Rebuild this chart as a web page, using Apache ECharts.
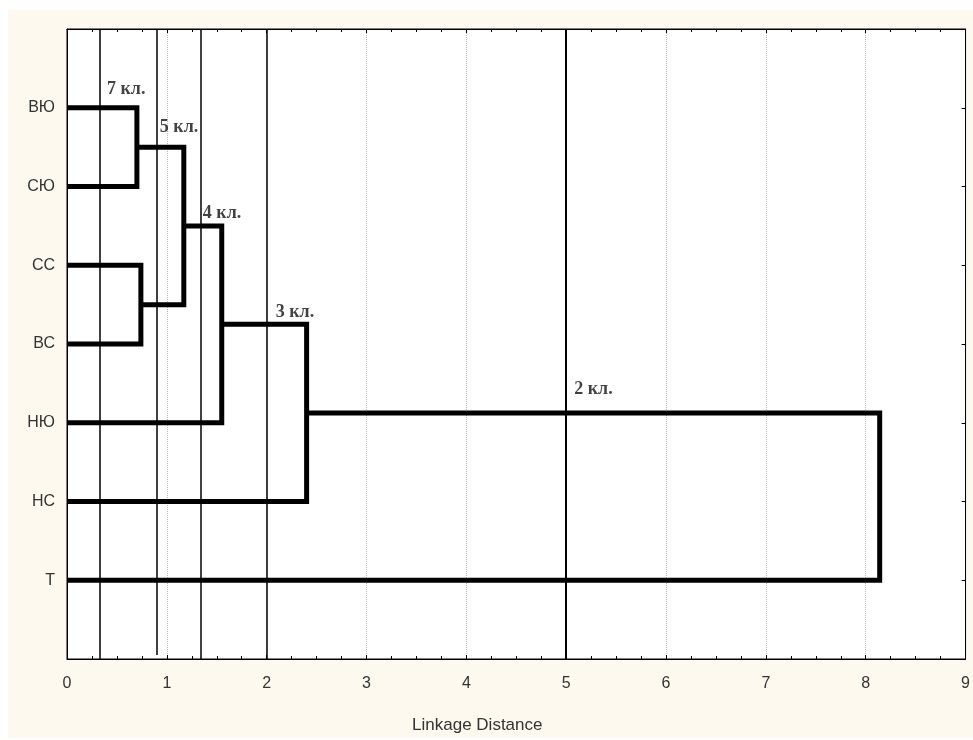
<!DOCTYPE html>
<html><head><meta charset="utf-8">
<script src="https://cdn.jsdelivr.net/npm/echarts@6/dist/echarts.min.js"></script>
<style>
html,body{margin:0;padding:0;background:#ffffff;}
#bg{position:absolute;left:8px;top:10px;width:965px;height:728px;background:#fdf9ef;}
#chart{position:absolute;left:0;top:0;width:973px;height:740px;}
</style></head>
<body><div id="bg"></div><div id="chart"></div>
<script>
// Leaves (top to bottom)
const leaves = ['ВЮ','СЮ','СС','ВС','НЮ','НС','Т'];
// Merges: cluster ids 0..6 are leaves, new clusters get ids 7,8,...
const mergeLeft   = [0, 2, 7, 9, 10, 11];
const mergeRight  = [1, 3, 8, 4, 5, 6];
const mergeHeight = [0.70, 0.74, 1.17, 1.55, 2.40, 8.14];
// Cut levels (vertical reference lines) and where each ends at the bottom
const cutLevels = [0.33, 0.9, 1.34, 2.0, 5.0];
const cutBottom = [8, 7.95, 8, 8, 8];
// Cluster-count annotations
const clusterLabels = ['7 кл.', '5 кл.', '4 кл.', '3 кл.', '2 кл.'];
const clusterLabelX = [0.40, 0.93, 1.36, 2.09, 5.08];
const clusterLabelY = [0.77, 1.25, 2.34, 3.60, 4.57];
const xTicks = [0,1,2,3,4,5,6,7,8,9];

// Build node positions
const nodeX = [], nodeY = [];
leaves.forEach((l, i) => { nodeX.push(0); nodeY.push(i + 1); });
const dendroSeries = [];
for (let k = 0; k < mergeHeight.length; k++) {
  const a = mergeLeft[k], b = mergeRight[k], h = mergeHeight[k];
  dendroSeries.push({
    type: 'line', showSymbol: false, silent: true, z: 5,
    lineStyle: { color: '#000', width: 5, cap: 'butt', join: 'miter' },
    data: [[nodeX[a], nodeY[a]], [h, nodeY[a]], [h, nodeY[b]], [nodeX[b], nodeY[b]]]
  });
  nodeX.push(h); nodeY.push((nodeY[a] + nodeY[b]) / 2);
}

const chart = echarts.init(document.getElementById('chart'));
const textColor = '#333';
const sans = 'Liberation Sans, Arial';
chart.setOption({
  animation: false,
  backgroundColor: 'transparent',
  grid: { left: 67, right: 4, top: 29, bottom: 81, show: true, z: -1, backgroundColor: '#ffffff', borderColor: '#000', borderWidth: 1 },
  xAxis: [{
    type: 'value', min: 0, max: 9, interval: 1, position: 'bottom', z: 3,
    name: 'Linkage Distance', nameLocation: 'middle', nameGap: 58,
    nameTextStyle: { fontFamily: sans, fontSize: 17, color: textColor, padding: [0, 78, 0, 0] },
    axisLine: { show: true, onZero: false, lineStyle: { color: '#000', width: 1 } },
    axisTick: { show: true, inside: true, length: 4, lineStyle: { color: '#000' } },
    minorTick: { show: true, splitNumber: 4, length: 3, lineStyle: { color: '#000' } },
    axisLabel: { fontFamily: sans, fontSize: 16, color: textColor, margin: 17,
                 formatter: v => xTicks.includes(v) ? String(v) : '' },
    splitLine: { show: true, lineStyle: { color: '#b8b8b8', type: 'dotted', width: 1 } }
  }, {
    type: 'value', min: 0, max: 9, interval: 1, position: 'top', z: 3,
    axisLine: { show: true, onZero: false, lineStyle: { color: '#000', width: 1 } },
    axisTick: { show: true, inside: true, length: 4, lineStyle: { color: '#000' } },
    minorTick: { show: true, splitNumber: 4, length: 3, lineStyle: { color: '#000' } },
    axisLabel: { show: false }, splitLine: { show: false }
  }],
  yAxis: [{
    type: 'value', inverse: true, min: 0, max: 8, interval: 1, position: 'left', z: 3,
    axisLine: { show: true, onZero: false, lineStyle: { color: '#000', width: 1 } },
    axisTick: { show: false },
    axisLabel: { fontFamily: sans, fontSize: 16, color: textColor, margin: 12,
                 formatter: v => leaves[v - 1] || '' },
    splitLine: { show: false }
  }, {
    type: 'value', inverse: true, min: 0, max: 8, interval: 1, position: 'right', z: 3,
    axisLine: { show: true, onZero: false, lineStyle: { color: '#000', width: 1 } },
    axisTick: { show: true, inside: true, length: 4, lineStyle: { color: '#000' } },
    axisLabel: { show: false }, splitLine: { show: false }
  }],
  series: [
    {
      type: 'line', data: [], silent: true, z: 3,
      markLine: {
        silent: true, symbol: 'none', label: { show: false }, animation: false,
        lineStyle: { color: '#000', type: 'solid', width: 1.5 },
        data: cutLevels.map((v, i) => [
          { coord: [v, 0], lineStyle: v === 5 ? { width: 2 } : undefined },
          { coord: [v, cutBottom[i]] }
        ])
      }
    },
    ...dendroSeries,
    {
      type: 'scatter', symbolSize: 0, silent: true, z: 6,
      data: clusterLabelX.map((x, i) => ({ value: [x, clusterLabelY[i]], label: { formatter: clusterLabels[i] } })),
      label: { show: true, position: 'inside', align: 'left', verticalAlign: 'middle',
               fontFamily: 'Liberation Serif, Times New Roman', fontWeight: 'bold', fontSize: 18, color: '#111' }
    }
  ]
});
</script></body></html>
